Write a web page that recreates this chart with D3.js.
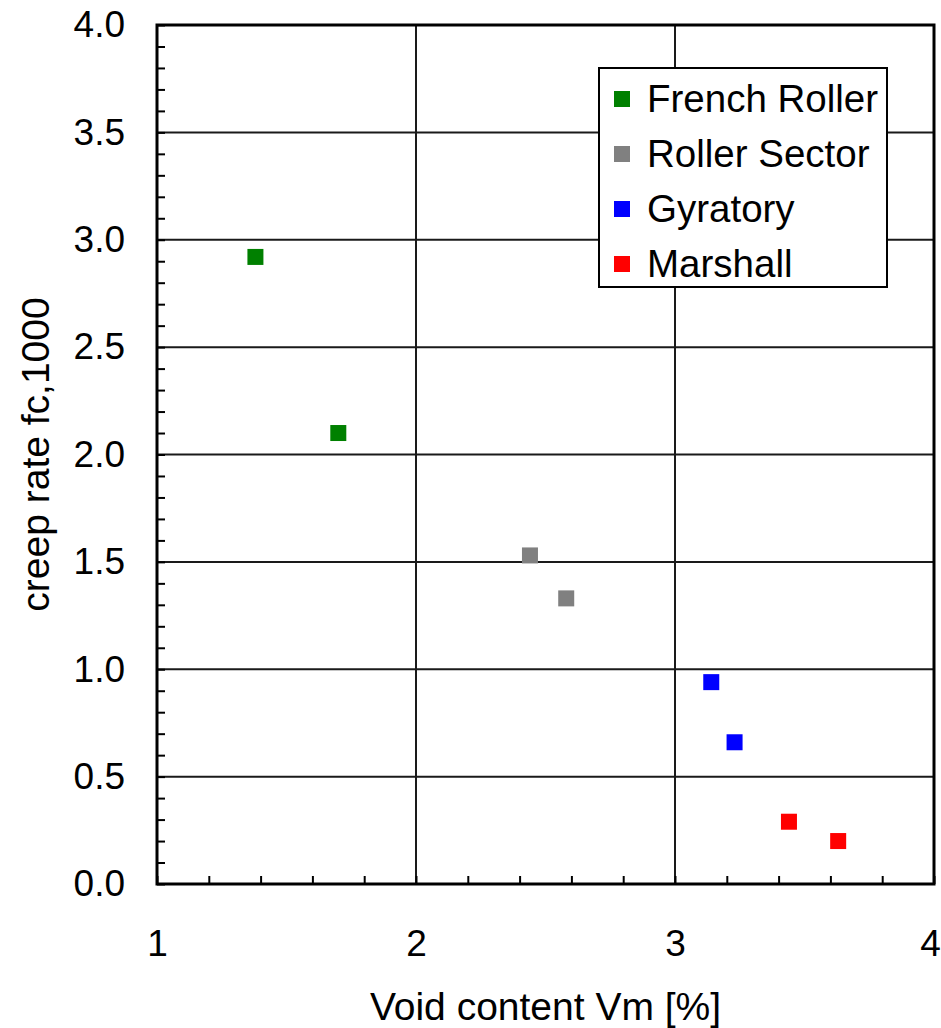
<!DOCTYPE html>
<html>
<head>
<meta charset="utf-8">
<script src="https://cdn.jsdelivr.net/npm/d3@7"></script>
<style>
  html, body { margin: 0; padding: 0; background: #fff; }
  svg { display: block; font-family: "Liberation Sans", Arial, sans-serif; }
</style>
</head>
<body>
<svg id="chart" width="941" height="1028"></svg>
<script>
// Creep rate vs. void content for four compaction methods
const seriesNames = ["French Roller", "Roller Sector", "Gyratory", "Marshall"];
const seriesColors = ["#008000", "#808080", "#0000ff", "#ff0000"];

const frenchRollerVoid = [1.38, 1.70];
const frenchRollerCreep = [2.92, 2.10];
const rollerSectorVoid = [2.44, 2.58];
const rollerSectorCreep = [1.53, 1.33];
const gyratoryVoid = [3.14, 3.23];
const gyratoryCreep = [0.94, 0.66];
const marshallVoid = [3.44, 3.63];
const marshallCreep = [0.29, 0.20];

const xMajorTicks = [1, 2, 3, 4];
const yMajorTicks = [0, 0.5, 1, 1.5, 2, 2.5, 3, 3.5, 4];

const seriesVoid = [frenchRollerVoid, rollerSectorVoid, gyratoryVoid, marshallVoid];
const seriesCreep = [frenchRollerCreep, rollerSectorCreep, gyratoryCreep, marshallCreep];

const svg = d3.select("#chart");
const plotLeft = 157, plotRight = 934, plotTop = 25, plotBottom = 884;

const x = d3.scaleLinear().domain([1, 4]).range([plotLeft, plotRight]);
const y = d3.scaleLinear().domain([0, 4]).range([plotBottom, plotTop]);

// Grid lines at major ticks
const grid = svg.append("g").attr("stroke", "#1a1a1a").attr("stroke-width", 2);
grid.selectAll("line.gx").data(xMajorTicks.slice(1, -1)).join("line")
  .attr("x1", d => x(d)).attr("x2", d => x(d)).attr("y1", plotTop).attr("y2", plotBottom);
grid.selectAll("line.gy").data(yMajorTicks.slice(1, -1)).join("line")
  .attr("x1", plotLeft).attr("x2", plotRight).attr("y1", d => y(d)).attr("y2", d => y(d));

// Minor ticks pointing into the plot
const xMinor = d3.range(1, 4.0001, 0.2).map(v => +v.toFixed(1));
const yMinor = d3.range(0, 4.0001, 0.1).map(v => +v.toFixed(1));
const minorX = svg.append("g").attr("transform", `translate(0,${plotBottom})`)
  .call(d3.axisBottom(x).tickValues(xMinor).tickSize(-8).tickFormat(""));
const minorY = svg.append("g").attr("transform", `translate(${plotLeft},0)`)
  .call(d3.axisLeft(y).tickValues(yMinor).tickSize(-8).tickFormat(""));
[minorX, minorY].forEach(g => {
  g.select(".domain").remove();
  g.selectAll(".tick line").attr("stroke", "#000").attr("stroke-width", 2);
});

// Tick labels
const xAxis = svg.append("g").attr("transform", `translate(0,${plotBottom})`)
  .call(d3.axisBottom(x).tickValues(xMajorTicks).tickSize(0).tickPadding(46).tickFormat(d3.format("d")));
const yAxis = svg.append("g").attr("transform", `translate(${plotLeft},0)`)
  .call(d3.axisLeft(y).tickValues(yMajorTicks).tickSize(0).tickPadding(32).tickFormat(d3.format(".1f")));
[xAxis, yAxis].forEach(g => {
  g.select(".domain").remove();
  g.selectAll(".tick text").attr("font-size", 37).attr("fill", "#000")
    .attr("font-family", "'Liberation Sans', Arial, sans-serif");
});
// keep the last x label inside the page edge
xAxis.selectAll(".tick text").filter(d => d === 4).attr("dx", -4);

// Frame
svg.append("rect").attr("x", plotLeft).attr("y", plotTop)
  .attr("width", plotRight - plotLeft).attr("height", plotBottom - plotTop)
  .attr("fill", "none").attr("stroke", "#000").attr("stroke-width", 3);

// Data points
const pts = svg.append("g");
seriesNames.forEach((name, i) => {
  const data = seriesVoid[i].map((v, j) => [v, seriesCreep[i][j]]);
  pts.selectAll(null).data(data).join("rect")
    .attr("x", d => x(d[0]) - 8).attr("y", d => y(d[1]) - 8)
    .attr("width", 16).attr("height", 16)
    .attr("fill", seriesColors[i]);
});

// Axis titles
svg.append("text").attr("x", (plotLeft + plotRight) / 2).attr("y", 1020)
  .attr("text-anchor", "middle").attr("font-size", 39).text("Void content Vm [%]");
svg.append("text").attr("transform", `translate(49,${(plotTop + plotBottom) / 2}) rotate(-90)`)
  .attr("text-anchor", "middle").attr("font-size", 39).text("creep rate fc,1000");

// Legend
const legend = svg.append("g");
legend.append("rect").attr("x", 599).attr("y", 68).attr("width", 288).attr("height", 219)
  .attr("fill", "#fff").attr("stroke", "#000").attr("stroke-width", 2);
const rowY = d3.scalePoint().domain(seriesNames).range([99, 264]);
seriesNames.forEach((name, i) => {
  legend.append("rect").attr("x", 614).attr("y", rowY(name) - 8)
    .attr("width", 16).attr("height", 16).attr("fill", seriesColors[i]);
  legend.append("text").attr("x", 647).attr("y", rowY(name) + 13)
    .attr("font-size", 38.5).text(name);
});
</script>
</body>
</html>
